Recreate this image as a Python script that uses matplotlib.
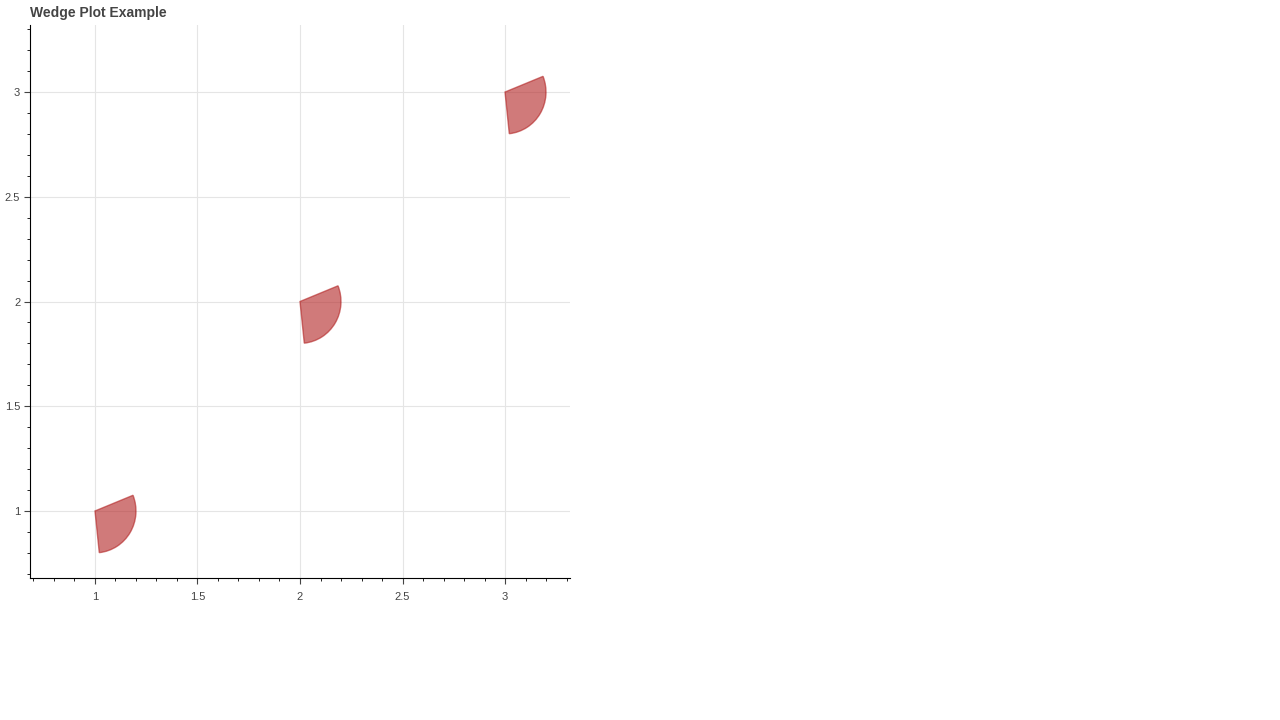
import matplotlib
matplotlib.use("Agg")
import matplotlib.pyplot as plt
from matplotlib.patches import Wedge
from matplotlib.ticker import MultipleLocator

plt.rcParams['font.family'] = ['Liberation Sans', 'DejaVu Sans']

xs = [1, 2, 3]
ys = [1, 2, 3]
radius = 0.2
start_deg = -84
end_deg = 22
title = "Wedge Plot Example"

fig = plt.figure(figsize=(12.8, 7.2), dpi=100)
ax = fig.add_axes([30/1280, 142/720, 540/1280, 553/720])
for x, y in zip(xs, ys):
    ax.add_patch(Wedge((x, y), radius, start_deg, end_deg, facecolor="firebrick",
                       edgecolor="firebrick", alpha=0.6, lw=1))
ax.set_xlim(0.683, 3.317)
ax.set_ylim(0.68, 3.32)
ax.xaxis.set_major_locator(MultipleLocator(0.5))
ax.yaxis.set_major_locator(MultipleLocator(0.5))
ax.xaxis.set_minor_locator(MultipleLocator(0.1))
ax.yaxis.set_minor_locator(MultipleLocator(0.1))
ax.xaxis.set_major_formatter(plt.FuncFormatter(lambda v, p: f"{v:g}"))
ax.yaxis.set_major_formatter(plt.FuncFormatter(lambda v, p: f"{v:g}"))
ax.grid(True, color="#e5e5e5", lw=0.8)
ax.set_axisbelow(True)
for s in ["top", "right"]:
    ax.spines[s].set_visible(False)
ax.tick_params(labelsize=8, colors="#444444", length=4, width=0.8, pad=3)
ax.tick_params(which="minor", length=2)
ax.tick_params(axis="x", pad=6)
fig.text(30/1280, 1 - 13/720, title, fontsize=10, fontweight="bold", color="#444444", va="center")
fig.savefig("out.png", dpi=100)
